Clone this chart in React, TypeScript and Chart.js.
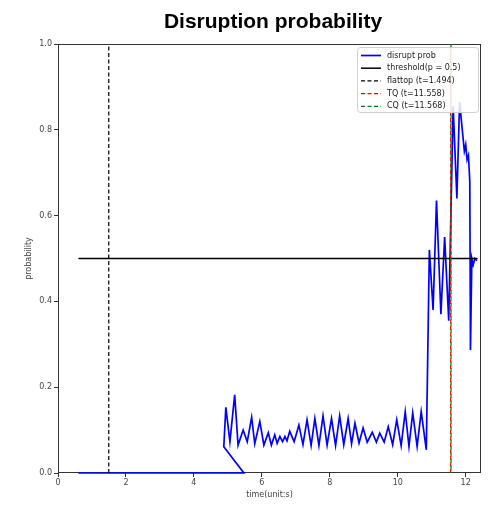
import React, { useEffect, useRef } from "react";
import { Chart, registerables } from "chart.js";

Chart.register(...registerables);

const chartTitle = "Disruption probability";
const xLabel = "time(unit:s)";
const yLabel = "probability";

const probTime = [
  0.6, 5.47, 4.88, 4.94, 5.06, 5.2, 5.3, 5.45, 5.57, 5.7, 5.79, 5.94, 6.06, 6.19, 6.28, 6.38, 6.45,
  6.53, 6.61, 6.68, 6.74, 6.82, 6.95, 7.09, 7.21, 7.33, 7.45, 7.56, 7.68, 7.8, 7.92, 8.05, 8.17,
  8.29, 8.41, 8.54, 8.64, 8.74, 8.86, 8.98, 9.1, 9.25, 9.37, 9.47, 9.6, 9.72, 9.85, 9.97, 10.1,
  10.22, 10.33, 10.44, 10.57, 10.69, 10.84, 10.93, 11.04, 11.14, 11.27, 11.38, 11.5, 11.63, 11.74,
  11.82, 11.96, 12.0, 12.04, 12.08, 12.12, 12.14, 12.18, 12.22, 12.27, 12.33,
];
const probValue = [
  0, 0, 0.061, 0.153, 0.073, 0.182, 0.065, 0.1, 0.073, 0.13, 0.068, 0.12, 0.065, 0.094, 0.065, 0.089,
  0.069, 0.085, 0.073, 0.085, 0.075, 0.097, 0.073, 0.112, 0.066, 0.124, 0.064, 0.127, 0.064, 0.133,
  0.065, 0.127, 0.064, 0.133, 0.066, 0.127, 0.068, 0.116, 0.07, 0.105, 0.072, 0.095, 0.072, 0.093,
  0.072, 0.108, 0.066, 0.124, 0.064, 0.143, 0.062, 0.14, 0.062, 0.143, 0.054, 0.52, 0.38, 0.635,
  0.37, 0.55, 0.355, 0.855, 0.64, 0.865, 0.75, 0.765, 0.73, 0.74, 0.68, 0.287, 0.5, 0.485, 0.5, 0.495,
];

const thresholdTime = [0.6, 12.35];
const thresholdValue = 0.5;
const flattopTime = 1.494;
const tqTime = 11.558;
const cqTime = 11.568;

const xMin = 0;
const xMax = 12.45;
const xStep = 2;
const yMin = 0;
const yMax = 1;
const yStep = 0.2;

const FONT = "'DejaVu Sans', sans-serif";

const overlayPlugin = {
  id: "overlay",
  beforeDatasetsDraw(chart: any) {
    const { ctx, chartArea } = chart;
    ctx.save();
    ctx.strokeStyle = "#333";
    ctx.lineWidth = 1;
    ctx.strokeRect(chartArea.left + 0.5, chartArea.top + 0.5, chartArea.right - chartArea.left - 1, chartArea.bottom - chartArea.top - 1);
    ctx.restore();
  },
  afterDraw(chart: any) {
    const { ctx } = chart;
    ctx.save();
    // title
    ctx.fillStyle = "#000";
    ctx.font = "bold 21px 'Liberation Sans', Arial, sans-serif";
    ctx.textAlign = "center";
    ctx.textBaseline = "middle";
    ctx.fillText(chartTitle, 273, 22);

    // legend
    const bx = 357, by = 47, bw = 121, bh = 65;
    ctx.fillStyle = "rgba(255,255,255,0.85)";
    ctx.strokeStyle = "#d0d0d0";
    ctx.lineWidth = 1;
    ctx.beginPath();
    (ctx as any).roundRect(bx + 0.5, by + 0.5, bw, bh, 3);
    ctx.fill();
    ctx.stroke();
    ctx.font = `8px ${FONT}`;
    ctx.textAlign = "left";
    ctx.textBaseline = "middle";
    chart.data.datasets.forEach((ds: any, i: number) => {
      const y = by + 8.5 + i * 12.7;
      ctx.save();
      ctx.strokeStyle = ds.borderColor;
      ctx.lineWidth = ds.borderWidth;
      ctx.setLineDash(ds.borderDash || []);
      ctx.beginPath();
      ctx.moveTo(bx + 4, y);
      ctx.lineTo(bx + 24, y);
      ctx.stroke();
      ctx.restore();
      ctx.fillStyle = "#222";
      ctx.fillText(ds.label, bx + 30, y);
    });
    ctx.restore();
  },
};

export default function App() {
  const ref = useRef<HTMLCanvasElement | null>(null);
  useEffect(() => {
    if (!ref.current) return;
    const vline = (t: number) => [
      { x: t, y: yMin },
      { x: t, y: yMax },
    ];
    const chart = new Chart(ref.current, {
      type: "line",
      data: {
        datasets: [
          {
            label: "disrupt prob",
            data: probTime.map((t, i) => ({ x: t, y: probValue[i] })),
            borderColor: "#0000ff",
            borderWidth: 1.7,
            pointRadius: 0,
            tension: 0,
            clip: { left: 0, top: 0, right: 0, bottom: 2 },
            order: 5,
          },
          {
            label: "threshold(p = 0.5)",
            data: thresholdTime.map((t) => ({ x: t, y: thresholdValue })),
            borderColor: "#000000",
            borderWidth: 1.5,
            pointRadius: 0,
            order: 4,
          },
          {
            label: `flattop (t=${flattopTime})`,
            data: vline(flattopTime),
            borderColor: "#000000",
            borderWidth: 1.2,
            borderDash: [4, 2.5],
            pointRadius: 0,
            order: 3,
          },
          {
            label: `TQ (t=${tqTime})`,
            data: vline(tqTime),
            borderColor: "#ff0000",
            borderWidth: 1.2,
            borderDash: [4, 2.5],
            pointRadius: 0,
            order: 2,
          },
          {
            label: `CQ (t=${cqTime})`,
            data: vline(cqTime),
            borderColor: "#008000",
            borderWidth: 1.2,
            borderDash: [4, 2.5],
            borderDashOffset: 3,
            pointRadius: 0,
            order: 1,
          },
        ] as any,
      },
      options: {
        responsive: false,
        animation: false,
        devicePixelRatio: 1,
        layout: { padding: { top: 44, right: 7, left: 0, bottom: 0 } },
        plugins: {
          legend: { display: false },
          tooltip: { enabled: false },
          title: { display: false },
        },
        scales: {
          x: {
            type: "linear",
            min: xMin,
            max: xMax,
            afterFit: (s: any) => {
              s.height = 32;
            },
            ticks: {
              stepSize: xStep,
              includeBounds: false,
              padding: 1,
              color: "#444",
              font: { family: FONT, size: 8 },
              maxRotation: 0,
              callback: (v: any) => String(v),
            },
            grid: { drawOnChartArea: false, drawTicks: true, tickLength: 4, color: "#333" },
            border: { display: false },
            title: {
              display: true,
              text: xLabel,
              color: "#444",
              font: { family: FONT, size: 8 },
              padding: { top: 0, bottom: 5 },
            },
          },
          y: {
            type: "linear",
            min: yMin,
            max: yMax,
            afterFit: (s: any) => {
              s.width = 58;
            },
            ticks: {
              stepSize: yStep,
              padding: 2,
              color: "#444",
              font: { family: FONT, size: 8 },
              callback: (v: any) => Number(v).toFixed(1),
            },
            grid: { drawOnChartArea: false, drawTicks: true, tickLength: 4, color: "#333" },
            border: { display: false },
            title: {
              display: true,
              text: yLabel,
              color: "#444",
              font: { family: FONT, size: 8 },
              padding: { top: 24, bottom: 0 },
            },
          },
        },
      } as any,
      plugins: [overlayPlugin],
    });
    return () => chart.destroy();
  }, []);
  return (
    <div style={{ position: "absolute", left: 0, top: 0, width: 488, height: 505, background: "#fff" }}>
      <canvas ref={ref} width={488} height={505} style={{ display: "block" }} />
    </div>
  );
}
